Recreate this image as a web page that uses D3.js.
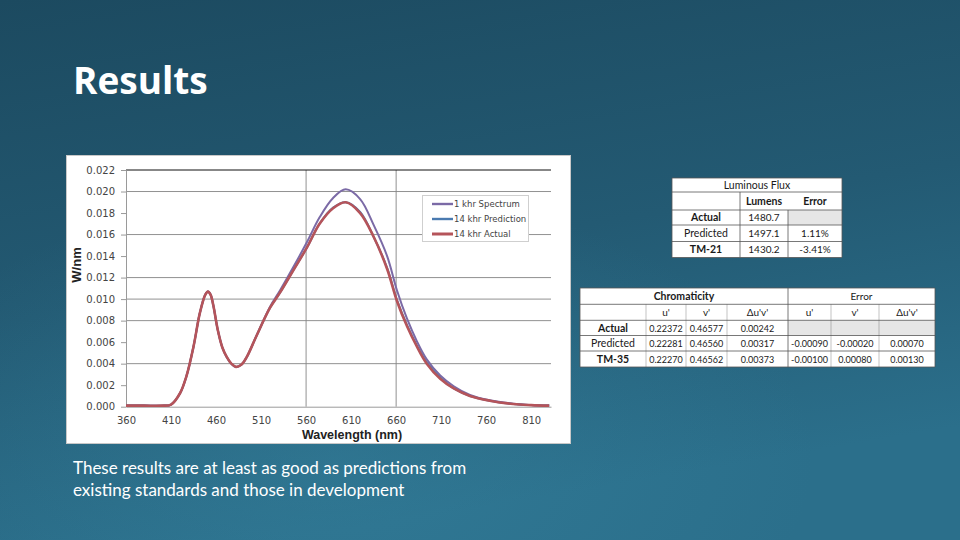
<!DOCTYPE html>
<html><head><meta charset="utf-8">
<script src="https://cdn.jsdelivr.net/npm/d3@7"></script>
<style>
html,body{margin:0;padding:0;width:960px;height:540px;overflow:hidden;}
svg{display:block;}
</style></head>
<body>
<script>
// ---- data ----
const wavelengths = [360,380,400,410,420,427,435,442,448,451,454,457,462,467,472,477,482,488,494,505,520,531,546,561,575,590,604,620,635,650,661,672,683,694,709,724,742,764,790,810,830];
const spectrum1khr = [0.0001,0.0001,0.0001,0.0002,0.00125,0.0028,0.0056,0.0087,0.0104,0.0107,0.0104,0.0094,0.0071,0.0055,0.0046,0.0040,0.0037,0.0039,0.0046,0.0066,0.0093,0.0108,0.0130,0.0153,0.0176,0.0194,0.0202,0.0193,0.0169,0.0140,0.0108,0.0082,0.0061,0.0044,0.0029,0.0019,0.0011,0.0006,0.00028,0.00016,0.0001];
const prediction14khr = [0.0001,0.0001,0.0001,0.0002,0.00125,0.0028,0.0056,0.0087,0.0104,0.0107,0.0104,0.0094,0.0071,0.0055,0.0046,0.0040,0.0037,0.0039,0.0046,0.0066,0.0092,0.0106,0.0127,0.0148,0.0170,0.0185,0.0190,0.0181,0.0158,0.0129,0.0099,0.0076,0.0057,0.0041,0.0027,0.0017,0.0010,0.00056,0.00025,0.00015,0.0001];
const actual14khr = [0.0001,0.0001,0.0001,0.0002,0.00125,0.0028,0.0056,0.0087,0.0104,0.0107,0.0104,0.0094,0.0071,0.0055,0.0046,0.0040,0.0037,0.0039,0.0046,0.0066,0.0092,0.0106,0.0127,0.0148,0.0170,0.01845,0.0190,0.0180,0.0158,0.0128,0.0098,0.0075,0.0056,0.0040,0.0026,0.0017,0.0010,0.00056,0.00025,0.00015,0.0001];
const seriesNames = ["1 khr Spectrum","14 khr Prediction","14 khr Actual"];
const xTicks = [360,410,460,510,560,610,660,710,760,810];
const yTicks = [0,0.002,0.004,0.006,0.008,0.010,0.012,0.014,0.016,0.018,0.020,0.022];
const yGrid = [0.004,0.008,0.010,0.012,0.016,0.020];
const xGrid = [560,660];

const fluxHeader = ["Lumens","Error"];
const fluxLabels = ["Actual","Predicted","TM-21"];
const fluxValues = [["1480.7",""],["1497.1","1.11%"],["1430.2","-3.41%"]];

const chromaHeader = ["u'","v'","\u0394u'v'","u'","v'","\u0394u'v'"];
const chromaLabels = ["Actual","Predicted","TM-35"];
const chromaValues = [
  ["0.22372","0.46577","0.00242","","",""],
  ["0.22281","0.46560","0.00317","-0.00090","-0.00020","0.00070"],
  ["0.22270","0.46562","0.00373","-0.00100","0.00080","0.00130"]
];

// ---- page ----
const W=960,H=540;
const svg=d3.select("body").append("svg").attr("width",W).attr("height",H);
const defs=svg.append("defs");
const g1=defs.append("linearGradient").attr("id","bg").attr("x1",0).attr("y1",0).attr("x2",0.3).attr("y2",1);
g1.append("stop").attr("offset","0%").attr("stop-color","#1c4a60");
g1.append("stop").attr("offset","55%").attr("stop-color","#235a73");
g1.append("stop").attr("offset","100%").attr("stop-color","#2b6f8b");
svg.append("rect").attr("width",W).attr("height",H).attr("fill","url(#bg)");
const rg=defs.append("radialGradient").attr("id","glow").attr("cx",0.35).attr("cy",0.85).attr("r",0.5);
rg.append("stop").attr("offset","0%").attr("stop-color","#3a8aa6").attr("stop-opacity",0.35);
rg.append("stop").attr("offset","100%").attr("stop-color","#3a8aa6").attr("stop-opacity",0);
svg.append("rect").attr("width",W).attr("height",H).attr("fill","url(#glow)");

svg.append("text").attr("x",73).attr("y",94).text("Results")
  .attr("font-family","'Open Sans', Lato, sans-serif").attr("font-weight","bold")
  .attr("font-size",37).attr("fill","#ffffff");

const body=svg.append("text").attr("font-family","Lato, 'Open Sans', sans-serif")
  .attr("font-size",17).attr("fill","#ffffff");
body.append("tspan").attr("x",73).attr("y",474).text("These results are at least as good as predictions from");
body.append("tspan").attr("x",73).attr("y",496).text("existing standards and those in development");

// ---- chart ----
svg.append("rect").attr("x",66.5).attr("y",155.5).attr("width",504).attr("height",288)
  .attr("fill","#ffffff").attr("stroke","#c8c8c8");

const x=d3.scaleLinear().domain([360,832]).range([126,551]);
const y=d3.scaleLinear().domain([0,0.022]).range([406.7,170]);
const ch=svg.append("g");

ch.selectAll(".gy").data(yGrid).join("line")
  .attr("x1",126).attr("x2",551).attr("y1",d=>y(d)).attr("y2",d=>y(d))
  .attr("stroke","#858585").attr("stroke-width",0.9);
ch.selectAll(".gx").data(xGrid).join("line")
  .attr("x1",d=>x(d)).attr("x2",d=>x(d)).attr("y1",170).attr("y2",406.7)
  .attr("stroke","#858585").attr("stroke-width",0.9);
ch.append("line").attr("x1",126).attr("x2",551).attr("y1",y(0.022)).attr("y2",y(0.022))
  .attr("stroke","#111").attr("stroke-width",1);

const yAxis=d3.axisLeft(y).tickValues(yTicks).tickFormat(d3.format(".3f")).tickSize(5).tickSizeOuter(0);
const ya=ch.append("g").attr("transform","translate(126,0)").call(yAxis);
ya.select(".domain").attr("stroke","#9a9a9a");
ya.selectAll(".tick line").attr("stroke","#9a9a9a");
ya.selectAll("text").attr("font-family","'DejaVu Sans', sans-serif").attr("font-size",10).attr("fill","#444").attr("dx",-3);

const xAxis=d3.axisBottom(x).tickValues(xTicks).tickFormat(d3.format("d")).tickSize(0).tickSizeOuter(0);
const xa=ch.append("g").attr("transform","translate(0,406.7)").call(xAxis);
xa.select(".domain").attr("stroke","#9a9a9a");
xa.selectAll("text").attr("font-family","'DejaVu Sans', sans-serif").attr("font-size",10).attr("fill","#444").attr("dy","1.45em");

ch.append("text").attr("transform","translate(81,265) rotate(-90)").attr("text-anchor","middle")
  .attr("font-family","'Liberation Sans', Arial, sans-serif").attr("font-weight","bold").attr("font-size",13).attr("fill","#222").text("W/nm");
ch.append("text").attr("x",352).attr("y",439).attr("text-anchor","middle")
  .attr("font-family","'Liberation Sans', Arial, sans-serif").attr("font-weight","bold").attr("font-size",12.5).attr("fill","#222").text("Wavelength (nm)");

const line=d3.line().x(d=>x(d[0])).y(d=>y(d[1])).curve(d3.curveCatmullRom.alpha(0.5));
const series=[
  {name:seriesNames[0],vals:spectrum1khr,color:"#7b6aa6",w:2},
  {name:seriesNames[1],vals:prediction14khr,color:"#4a7ab0",w:2},
  {name:seriesNames[2],vals:actual14khr,color:"#b5545a",w:2.6}
];
series.forEach(s=>{
  ch.append("path").datum(wavelengths.map((w,i)=>[w,s.vals[i]]))
    .attr("d",line).attr("fill","none").attr("stroke",s.color).attr("stroke-width",s.w)
    .attr("stroke-linejoin","round");
});

// legend
const lg=ch.append("g");
lg.append("rect").attr("x",422.5).attr("y",195.5).attr("width",106).attr("height",46)
  .attr("fill","#ffffff").attr("stroke","#cfcfcf");
series.forEach((s,i)=>{
  const ly=204+i*15;
  lg.append("line").attr("x1",432).attr("x2",453).attr("y1",ly).attr("y2",ly)
    .attr("stroke",s.color).attr("stroke-width",s.w+0.4);
  lg.append("text").attr("x",454).attr("y",ly+3.2).text(s.name)
    .attr("font-family","'DejaVu Sans', sans-serif").attr("font-size",8.5).attr("fill","#444");
});

// ---- tables ----
const tf="Lato, 'Open Sans', sans-serif";
function cellText(gr,cx,cy,t,bold,fs){
  gr.append("text").attr("x",cx).attr("y",cy+3.6).attr("text-anchor","middle").text(t)
    .attr("font-family",tf).attr("font-size",fs||10.5).attr("font-weight",bold?"bold":"normal").attr("fill","#1a1a1a");
}
const st="#555";
// luminous flux
(function(){
  const gx=[672,740,788,842], gy=[178,192,210,225,241.5,257.5];
  const t=svg.append("g");
  t.append("rect").attr("x",gx[0]).attr("y",gy[0]).attr("width",gx[3]-gx[0]).attr("height",gy[5]-gy[0]).attr("fill","#fff");
  t.append("rect").attr("x",gx[2]).attr("y",gy[2]).attr("width",gx[3]-gx[2]).attr("height",gy[3]-gy[2]).attr("fill","#e6e6e6");
  gy.forEach(v=>t.append("line").attr("x1",gx[0]).attr("x2",gx[3]).attr("y1",v).attr("y2",v).attr("stroke",st).attr("stroke-width",0.8));
  [gx[0],gx[3]].forEach(v=>t.append("line").attr("x1",v).attr("x2",v).attr("y1",gy[0]).attr("y2",gy[5]).attr("stroke",st).attr("stroke-width",0.8));
  [gx[1]].forEach(v=>t.append("line").attr("x1",v).attr("x2",v).attr("y1",gy[1]).attr("y2",gy[5]).attr("stroke",st).attr("stroke-width",0.8));
  t.append("line").attr("x1",gx[2]).attr("x2",gx[2]).attr("y1",gy[2]).attr("y2",gy[5]).attr("stroke",st).attr("stroke-width",0.8);
  cellText(t,(gx[0]+gx[3])/2,(gy[0]+gy[1])/2,"Luminous Flux",false,10.5);
  fluxHeader.forEach((h,i)=>cellText(t,(gx[i+1]+gx[i+2])/2,(gy[1]+gy[2])/2,h,true,10.5));
  fluxLabels.forEach((l,r)=>{
    cellText(t,(gx[0]+gx[1])/2,(gy[r+2]+gy[r+3])/2,l,l!=="Predicted",10.5);
    fluxValues[r].forEach((v,c)=>cellText(t,(gx[c+1]+gx[c+2])/2,(gy[r+2]+gy[r+3])/2,v,false,10));
  });
})();
// chromaticity
(function(){
  const gx=[580,646,686,727,788,831,879,935], gy=[288,304.3,320.3,335.5,351,367];
  const t=svg.append("g");
  t.append("rect").attr("x",gx[0]).attr("y",gy[0]).attr("width",gx[7]-gx[0]).attr("height",gy[5]-gy[0]).attr("fill","#fff");
  t.append("rect").attr("x",gx[4]).attr("y",gy[2]).attr("width",gx[7]-gx[4]).attr("height",gy[3]-gy[2]).attr("fill","#e6e6e6");
  gy.forEach(v=>t.append("line").attr("x1",gx[0]).attr("x2",gx[7]).attr("y1",v).attr("y2",v).attr("stroke",st).attr("stroke-width",0.8));
  [gx[0],gx[4],gx[7]].forEach(v=>t.append("line").attr("x1",v).attr("x2",v).attr("y1",gy[0]).attr("y2",gy[5]).attr("stroke",st).attr("stroke-width",0.8));
  [gx[1],gx[2],gx[3],gx[5],gx[6]].forEach(v=>t.append("line").attr("x1",v).attr("x2",v).attr("y1",gy[1]).attr("y2",gy[5]).attr("stroke",st).attr("stroke-width",0.6).attr("stroke-opacity",0.6));
  cellText(t,(gx[0]+gx[4])/2,(gy[0]+gy[1])/2,"Chromaticity",true,10.5);
  cellText(t,(gx[4]+gx[7])/2,(gy[0]+gy[1])/2,"Error",false,10);
  chromaHeader.forEach((h,i)=>cellText(t,(gx[i+1]+gx[i+2])/2,(gy[1]+gy[2])/2,h,false,10));
  chromaLabels.forEach((l,r)=>{
    cellText(t,(gx[0]+gx[1])/2,(gy[r+2]+gy[r+3])/2,l,l!=="Predicted",10.5);
    chromaValues[r].forEach((v,c)=>cellText(t,(gx[c+1]+gx[c+2])/2,(gy[r+2]+gy[r+3])/2,v,false,9));
  });
})();
</script>
</body></html>
